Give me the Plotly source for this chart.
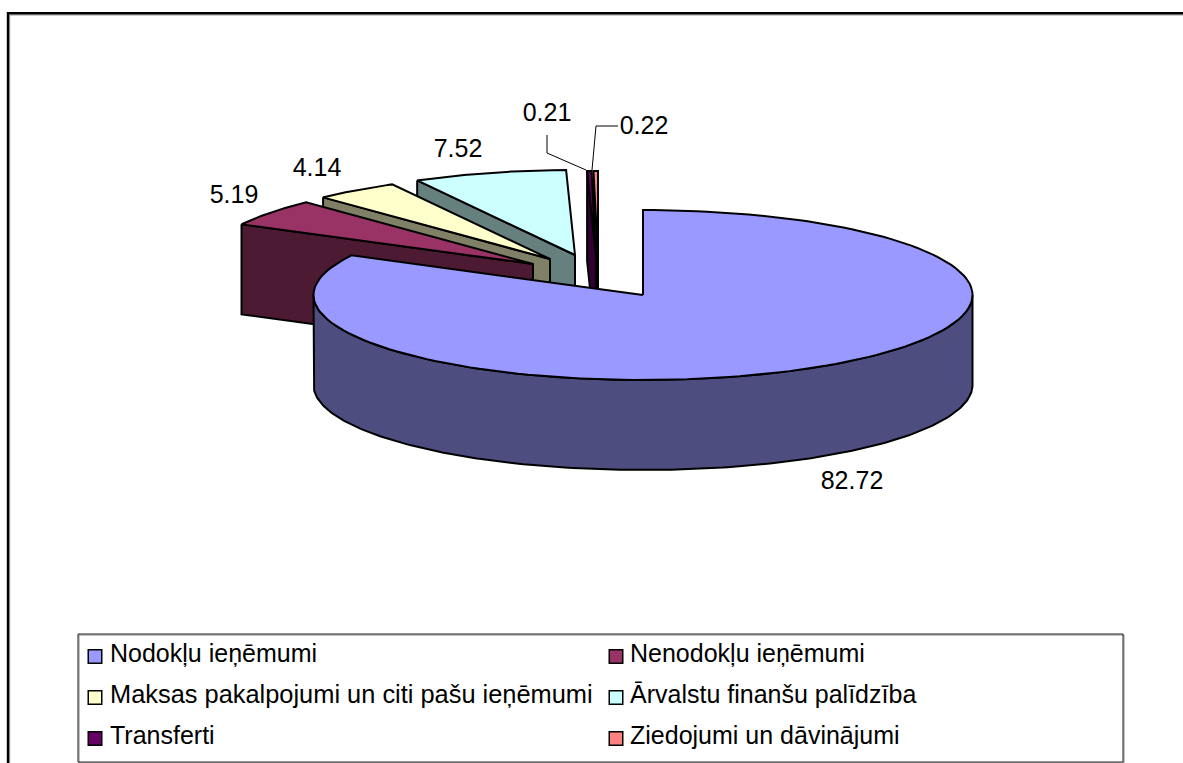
import numpy as np
import plotly.graph_objects as go

# ---- data ----
categories = ["Nodokļu ieņēmumi", "Nenodokļu ieņēmumi",
              "Maksas pakalpojumi un citi pašu ieņēmumi", "Ārvalstu finanšu palīdzība",
              "Transferti", "Ziedojumi un dāvinājumi"]
values = [82.72, 5.19, 4.14, 7.52, 0.21, 0.22]
value_labels = ["82.72", "5.19", "4.14", "7.52", "0.21", "0.22"]

# ---- style / layout ----
top_colors = ["#9999FF", "#993366", "#FFFFCC", "#CCFFFF", "#660066", "#FF8080"]
side_colors = ["#4D4D80", "#4D1A33", "#808066", "#668080", "#330033", "#804040"]
W, H = 1183, 763
CX, CY, RX, RY, DEPTH = 643.0, 295.0, 329.5, 85.0, 90.0
explode_x = [0, -110, -93, -68, -47, -45]
explode_y = [0, -31, -36, -40, -39, -39]
label_x = [852, 234, 317, 458, 547, 644]
label_y = [483, 197, 170, 151, 115, 128]
legend_mx = [95, 616, 95, 616, 95, 616]
legend_my = [656.5, 656.5, 697.5, 697.5, 738.5, 738.5]
legend_tx = [110, 630, 110, 630, 110, 630]
legend_y = [656, 656, 697, 697, 738, 738]
legend_sizes = [25, 25, 25.4, 25, 25, 25]
FONT_FAMILY = "Liberation Sans, Arial"

total = sum(values)
ends = np.cumsum(values) / total * 2 * np.pi
starts = np.concatenate([[0], ends[:-1]])

def pt(a, dx=0.0, dy=0.0, dz=0.0):
    return CX + dx + RX * np.sin(a), CY + dy + dz - RY * np.cos(a)

def poly(fig, xs, ys, fill, lw=2):
    fig.add_trace(go.Scatter(x=list(xs) + [xs[0]], y=list(ys) + [ys[0]], mode="lines", fill="toself",
                             fillcolor=fill, line=dict(color="black", width=lw),
                             hoverinfo="skip", showlegend=False))

fig = go.Figure()

# painter's order: back-most slices first, main slice last
for i in [5, 4, 3, 2, 1, 0]:
    a0, a1 = starts[i], ends[i]
    dx, dy = explode_x[i], explode_y[i]
    tip_x, tip_y = CX + dx, CY + dy
    arc = np.linspace(a0, a1, 160)
    ax, ay = pt(arc, dx, dy)
    if i == 0:
        wall = np.linspace(np.pi / 2, 3 * np.pi / 2, 200)
        wx, wy = pt(wall)
        bx, by = pt(wall[::-1], dz=DEPTH)
        poly(fig, np.r_[wx, bx], np.r_[wy, by], side_colors[i])
    else:
        sx, sy = pt(a0, dx, dy)
        poly(fig, [sx, tip_x, tip_x, sx], [sy, tip_y, tip_y + DEPTH, sy + DEPTH], side_colors[i])
    poly(fig, np.r_[tip_x, ax], np.r_[tip_y, ay], top_colors[i])

# leader lines for the two tiny slices
for lx, ly in [([547, 547, 586], [135, 153, 170]), ([618, 596, 592], [126, 126, 170])]:
    fig.add_trace(go.Scatter(x=lx, y=ly, mode="lines", line=dict(color="black", width=1),
                             hoverinfo="skip", showlegend=False))

# value labels
fig.add_trace(go.Scatter(x=label_x, y=label_y, mode="text", text=value_labels,
                         textposition="middle center",
                         textfont=dict(family=FONT_FAMILY, size=25, color="black"),
                         hoverinfo="skip", showlegend=False))

# legend entries
fig.add_trace(go.Scatter(x=legend_mx, y=legend_my, mode="markers",
                         marker=dict(symbol="square", size=13.5, color=top_colors, line=dict(color="black", width=1.5)),
                         hoverinfo="skip", showlegend=False))
fig.add_trace(go.Scatter(x=legend_tx, y=legend_y, mode="text", text=categories,
                         textposition="middle right",
                         textfont=dict(family=FONT_FAMILY, size=legend_sizes, color="black"),
                         hoverinfo="skip", showlegend=False))

fig.update_layout(
    width=W, height=H, margin=dict(l=0, r=0, t=0, b=0), paper_bgcolor="white", plot_bgcolor="white",
    showlegend=False,
    xaxis=dict(range=[0, W], visible=False, fixedrange=True),
    yaxis=dict(range=[H, 0], visible=False, fixedrange=True),
    shapes=[
        dict(type="rect", xref="x", yref="y", x0=9.7, y0=15, x1=W + 30, y1=H + 30, line=dict(color="#999999", width=1), layer="below"),
        dict(type="rect", xref="x", yref="y", x0=8, y0=13.2, x1=W + 30, y1=H + 30, line=dict(color="black", width=2.4), layer="below"),
        dict(type="rect", xref="x", yref="y", x0=79, y0=635, x1=1124, y1=763, line=dict(color="#888888", width=1), layer="below"),
        dict(type="rect", xref="x", yref="y", x0=78, y0=634, x1=1123, y1=762, line=dict(color="#222222", width=1), layer="below"),
    ],
)
fig.write_html("out.html", config={"displayModeBar": False}, post_script="document.body.style.margin='0';")
